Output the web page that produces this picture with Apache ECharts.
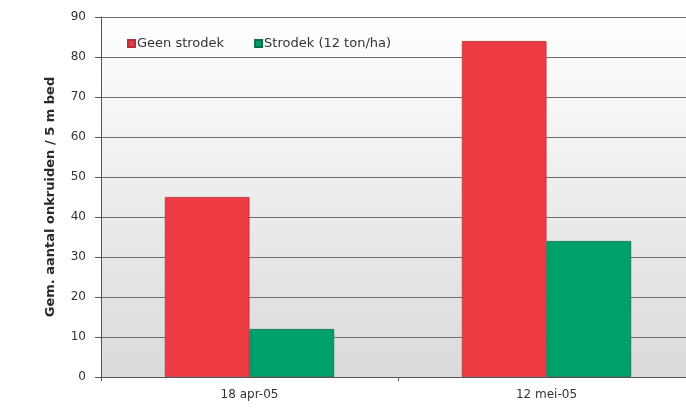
<!DOCTYPE html>
<html>
<head>
<meta charset="utf-8">
<script src="https://cdn.jsdelivr.net/npm/echarts@6/dist/echarts.min.js"></script>
<style>
  html, body { margin: 0; padding: 0; background: #fff; overflow: hidden; }
  #chart { width: 695px; height: 412px; }
</style>
</head>
<body>
<div id="chart"></div>
<script>
// Weed counts per 5 m bed, with and without straw mulch
var categories = ['18 apr-05', '12 mei-05'];
var geenStrodek = [45, 84];
var strodek = [12, 34];
var seriesNames = ['Geen strodek', 'Strodek (12 ton/ha)'];
var yTicks = { min: 0, max: 90, interval: 10 };
var yTitle = 'Gem. aantal onkruiden / 5 m bed';

var chart = echarts.init(document.getElementById('chart'), null, { renderer: 'canvas' });

var font = 'DejaVu Sans, Liberation Sans, sans-serif';

chart.setOption({
  animation: false,
  legend: {
    left: 122,
    top: 32,
    itemWidth: 7,
    itemHeight: 7,
    itemGap: 30,
    icon: 'rect',
    textStyle: { fontFamily: font, fontSize: 13, color: '#333', padding: [0, 0, 0, -3] },
    data: seriesNames
  },
  grid: {
    left: 101,
    top: 17,
    right: 0,
    bottom: 35,
    show: true,
    borderWidth: 0,
    backgroundColor: {
      type: 'linear', x: 0, y: 0, x2: 0, y2: 1,
      colorStops: [
        { offset: 0, color: '#ffffff' },
        { offset: 1, color: '#dadada' }
      ]
    }
  },
  xAxis: {
    type: 'category',
    data: categories,
    axisLine: { lineStyle: { color: '#555', width: 1 } },
    axisTick: { show: true, length: 4, lineStyle: { color: '#555' } },
    axisLabel: { fontFamily: font, fontSize: 12, color: '#333', margin: 12 }
  },
  yAxis: {
    type: 'value',
    min: yTicks.min,
    max: yTicks.max,
    interval: yTicks.interval,
    name: yTitle,
    nameLocation: 'middle',
    nameGap: 44,
    nameTextStyle: { fontFamily: font, fontSize: 13, color: '#2a2a2a', fontWeight: 'bold' },
    axisLine: { show: true, lineStyle: { color: '#555', width: 1 } },
    axisTick: { show: true, length: 6, lineStyle: { color: '#555' } },
    axisLabel: { fontFamily: font, fontSize: 12, color: '#333', margin: 15 },
    splitLine: { show: true, lineStyle: { color: '#6e6e6e', width: 1 } }
  },
  series: [
    {
      name: seriesNames[0],
      type: 'bar',
      data: geenStrodek,
      barCategoryGap: '43%',
      barGap: '0%',
      itemStyle: { color: '#ee3b43', borderColor: '#b8313a', borderWidth: 0.8 }
    },
    {
      name: seriesNames[1],
      type: 'bar',
      data: strodek,
      itemStyle: { color: '#00a06a', borderColor: '#0a6e4c', borderWidth: 0.8 }
    }
  ]
});
</script>
</body>
</html>
